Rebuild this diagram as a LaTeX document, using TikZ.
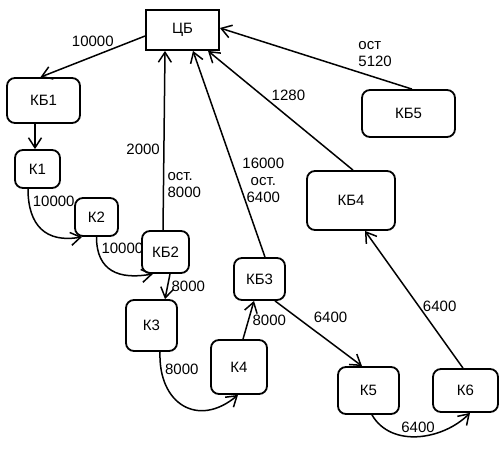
\documentclass[tikz,border=0pt]{standalone}
\usepackage{fontspec}
\setmainfont{Liberation Sans}
\usetikzlibrary{arrows.meta}

\tikzset{
	bank/.style={draw, line width=1.8pt, rounded corners=8pt, inner sep=0pt},
	flow/.style={-{Straight Barb[length=10pt,width=13pt]}, line width=1.5pt}
}

\begin{document}
\begin{tikzpicture}[x=1pt,y=-1pt,font=\fontsize{15}{17}\selectfont]
	\useasboundingbox (0,0) rectangle (504,452);
	% nodes
	\node[bank, sharp corners, minimum width=73pt, minimum height=40pt] (ZB) at (182.5,30) {ЦБ};
	\node[bank, minimum width=73pt, minimum height=45pt] (KB1) at (43.5,100.5) {КБ1};
	\node[bank, minimum width=45pt, minimum height=38pt] (K1) at (37.5,169) {К1};
	\node[bank, minimum width=43pt, minimum height=38pt] (K2) at (96.5,217) {К2};
	\node[bank, minimum width=47pt, minimum height=42pt] (KB2) at (165.5,252) {КБ2};
	\node[bank, minimum width=51pt, minimum height=51pt] (K3) at (151.5,325.5) {К3};
	\node[bank, minimum width=56pt, minimum height=54pt] (K4) at (239,367) {К4};
	\node[bank, minimum width=51pt, minimum height=42pt] (KB3) at (259.5,279) {КБ3};
	\node[bank, minimum width=88pt, minimum height=59pt] (KB4) at (351,200.5) {КБ4};
	\node[bank, minimum width=93pt, minimum height=47pt] (KB5) at (408.5,113.5) {КБ5};
	\node[bank, minimum width=61pt, minimum height=47pt] (K5) at (368.5,390.5) {К5};
	\node[bank, minimum width=65pt, minimum height=43pt] (K6) at (465.5,390.5) {К6};
	%
	\path[flow]
	% from the centre and along the chain
	([yshift=-6pt]ZB.west) edge node[above=6pt]{10000} ([xshift=-3pt]KB1.north)
	([xshift=-8.5pt]KB1.south) edge ([xshift=-2.5pt]K1.north)
	([xshift=-9.5pt]K1.south) edge[out=-90,in=190,looseness=1.3] node[pos=0.12,right]{10000} ([xshift=-14.5pt]K2.south)
	(K2.south) edge[out=-90,in=190,looseness=1.3] node[pos=0.12,right]{10000} ([xshift=-12.5pt]KB2.south)
	([xshift=4.5pt]KB2.south) edge node[right]{8000} ([xshift=13.5pt]K3.north)
	([xshift=8.5pt]K3.south) edge[out=-92,in=220,looseness=1.5] node[pos=0.12,right]{8000} ([xshift=-1pt]K4.south)
	([xshift=4pt]K4.north) edge node[right]{8000} ([xshift=-5.5pt]KB3.south)
	([xshift=15.5pt]KB3.south) edge node[pos=0.4,above right]{6400} ([xshift=-6.5pt]K5.north)
	([xshift=3.5pt]K5.south) edge[out=-60,in=225] node[above]{6400} ([xshift=4.5pt]K6.south)
	([xshift=-2.5pt]K6.north) edge node[pos=0.45,right]{6400} ([xshift=14pt]KB4.south)
	% back to the centre
	([xshift=-2.5pt]KB2.north) edge node[pos=0.45,left]{2000}
		node[pos=0.25,right,align=left]{ост.\\8000} ([xshift=-17.5pt]ZB.south)
	([xshift=5.5pt]KB3.north) edge node[pos=0.37,right,align=center]{16000\\ост.\\6400} ([xshift=10.5pt]ZB.south)
	([xshift=2pt]KB4.north) edge node[pos=0.63,right=6pt]{1280} ([xshift=25.5pt]ZB.south)
	([xshift=3.5pt]KB5.north) edge node[pos=0.3,above right,align=left]{ост\\5120} ([yshift=2pt]ZB.east);
\end{tikzpicture}
\end{document}
